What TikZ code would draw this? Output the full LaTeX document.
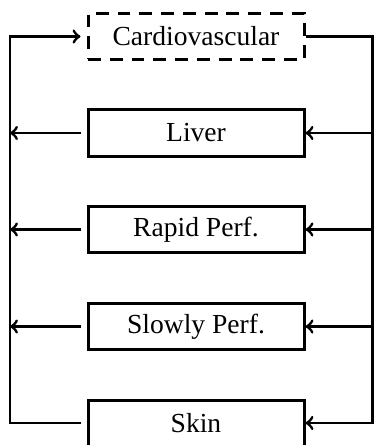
\documentclass[tikz,border=0pt]{standalone}
\usepackage{fontspec}
\setmainfont{Liberation Serif}
\usepackage{tikz}

\begin{document}
\begin{tikzpicture}[x=0.45pt,y=-0.45pt,
	organ/.style={draw,line width=1.35pt,minimum width=97.2pt,minimum height=20.7pt,inner sep=0pt,font=\fontsize{12.4}{14}\selectfont},
	flow/.style={line width=1.3pt,>=to}]
				\useasboundingbox (0,0) rectangle (374,445);
				\node[organ,dash pattern=on 5.8pt off 4pt] (cardio) at (196,36.5) {Cardiovascular};
				\node[organ] (liver) at (196,133) {Liver};
				\node[organ] (rapid) at (196,229.5) {Rapid Perf.};
				\node[organ] (slowly) at (196,326.5) {Slowly Perf.};
				\node[organ] (skin) at (196,423) {Skin};
				\coordinate (lt) at (10,36.5);%left rail top
				\coordinate (lb) at (10,423);%left rail bottom
				\coordinate (rt) at (372.7,36.5);%right rail top
				\coordinate (rb) at (372.7,423);%right rail bottom
				
				\draw[flow,->,shorten <=2.3pt,shorten >=2.7pt] (skin.west) -- (lb) -- (lt) -- (cardio.west);
				\draw[flow,->] (cardio.east) -- (rt) -- (rb) -- (skin.east);
				
				\draw[flow,->,shorten <=2.3pt] (liver.west) -- (liver.west -| lt);
				\draw[flow,->,shorten <=2.3pt] (rapid.west) -- (rapid.west -| lt);
				\draw[flow,->,shorten <=2.3pt] (slowly.west) -- (slowly.west -| lt);
				\draw[flow,->] (liver.east -| rt) -- (liver.east);
				\draw[flow,->] (rapid.east -| rt) -- (rapid.east);
				\draw[flow,->] (slowly.east -| rt) -- (slowly.east);
\end{tikzpicture}
\end{document}
